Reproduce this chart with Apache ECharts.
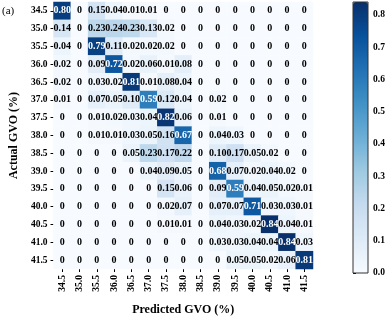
<!DOCTYPE html>
<html>
<head>
<meta charset="utf-8">
<script src="https://cdn.jsdelivr.net/npm/echarts@6/dist/echarts.min.js"></script>
<style>html,body{margin:0;padding:0;background:#fff;}#c{width:388px;height:321px;}</style>
</head>
<body>
<div id="c"></div>
<script>
var categories = ['34.5','35.0','35.5','36.0','36.5','37.0','37.5','38.0','38.5','39.0','39.5','40.0','40.5','41.0','41.5'];
var row_34_5 = [0.80,0,0.15,0.04,0.01,0.01,0,0,0,0,0,0,0,0,0];
var row_35_0 = [0.14,0,0.23,0.24,0.23,0.13,0.02,0,0,0,0,0,0,0,0];
var row_35_5 = [0.04,0,0.79,0.11,0.02,0.02,0.02,0,0,0,0,0,0,0,0];
var row_36_0 = [0.02,0,0.09,0.72,0.02,0.06,0.01,0.08,0,0,0,0,0,0,0];
var row_36_5 = [0.02,0,0.03,0.02,0.81,0.01,0.08,0.04,0,0,0,0,0,0,0];
var row_37_0 = [0.01,0,0.07,0.05,0.10,0.59,0.12,0.04,0,0.02,0,0,0,0,0];
var row_37_5 = [0,0,0.01,0.02,0.03,0.04,0.82,0.06,0,0.01,0,0,0,0,0];
var row_38_0 = [0,0,0.01,0.01,0.03,0.05,0.16,0.67,0,0.04,0.03,0,0,0,0];
var row_38_5 = [0,0,0,0,0.05,0.23,0.17,0.22,0,0.10,0.17,0.05,0.02,0,0];
var row_39_0 = [0,0,0,0,0,0.04,0.09,0.05,0,0.68,0.07,0.02,0.04,0.02,0];
var row_39_5 = [0,0,0,0,0,0,0.15,0.06,0,0.09,0.59,0.04,0.05,0.02,0.01];
var row_40_0 = [0,0,0,0,0,0,0.02,0.07,0,0.07,0.07,0.71,0.03,0.03,0.01];
var row_40_5 = [0,0,0,0,0,0,0.01,0.01,0,0.04,0.03,0.02,0.84,0.04,0.01];
var row_41_0 = [0,0,0,0,0,0,0,0,0,0.03,0.03,0.04,0.04,0.84,0.03];
var row_41_5 = [0,0,0,0,0,0,0,0,0,0,0.05,0.05,0.02,0.06,0.81];
var colorbarTicks = [0,0.1,0.2,0.3,0.4,0.5,0.6,0.7,0.8];

var rows = [row_34_5,row_35_0,row_35_5,row_36_0,row_36_5,row_37_0,row_37_5,row_38_0,row_38_5,row_39_0,row_39_5,row_40_0,row_40_5,row_41_0,row_41_5];
var data = [];
rows.forEach(function(r, yi){ r.forEach(function(v, xi){
  data.push({value: [xi, yi, v], label: {color: v >= 0.5 ? '#fff' : '#000'}});
}); });

var FONT = '"Liberation Serif","Times New Roman",serif';
var chart = echarts.init(document.getElementById('c'), null, {renderer:'canvas'});
chart.setOption({
  animation: false,
  backgroundColor: '#fff',
  grid: [
    {left: 47, right: 75, top: 2, bottom: 50},
    {left: 353, top: 2, width: 15, height: 271, show: true, borderColor: '#333', borderWidth: 1, backgroundColor: 'transparent', z: 10}
  ],
  xAxis: [
    {type: 'category', data: categories, gridIndex: 0,
     name: 'Predicted GVO (%)', nameLocation: 'middle', nameGap: 35,
     nameTextStyle: {fontFamily: FONT, fontWeight: 'bold', fontSize: 12, color: '#000'},
     axisLine: {show: false}, splitLine: {show: false},
     axisTick: {show: true, length: 3, alignWithLabel: true, lineStyle: {color: '#000'}},
     axisLabel: {rotate: 90, interval: 0, margin: 6, fontFamily: FONT, fontWeight: 'bold', fontSize: 9.5, color: '#000'}},
    {type: 'value', gridIndex: 1, show: false}
  ],
  yAxis: [
    {type: 'category', data: categories, gridIndex: 0, inverse: true,
     name: 'Actual GVO (%)', nameLocation: 'middle', nameGap: 28, nameRotate: 90,
     nameTextStyle: {fontFamily: FONT, fontWeight: 'bold', fontSize: 12, color: '#000'},
     axisLine: {show: false}, splitLine: {show: false},
     axisTick: {show: true, length: 3, alignWithLabel: true, lineStyle: {color: '#000'}},
     axisLabel: {interval: 0, margin: 6, fontFamily: FONT, fontWeight: 'bold', fontSize: 9.5, color: '#000'}},
    {type: 'value', gridIndex: 1, position: 'right', min: 0, max: 0.84,
     axisLine: {show: false}, splitLine: {show: false},
     axisTick: {show: true, length: 3, customValues: colorbarTicks, lineStyle: {color: '#000'}},
     axisLabel: {customValues: colorbarTicks, margin: 5, fontFamily: FONT, fontWeight: 'bold', fontSize: 9.5, color: '#000',
       formatter: function(v){ return v.toFixed(1); }}}
  ],
  visualMap: {
    type: 'continuous', min: 0, max: 0.84, calculable: false, show: true,
    seriesIndex: 0, orient: 'vertical', left: 353, top: 2, itemWidth: 15, itemHeight: 271,
    padding: 0, text: null, showLabel: false,
    inRange: {color: ['#f7fbff','#deebf7','#c6dbef','#9ecae1','#6baed6','#4292c6','#2171b5','#08519c','#08306b']}
  },
  graphic: [
    {type: 'text', left: 2, top: 6, style: {text: '(a)', fontFamily: FONT, fontSize: 11, fill: '#000'}}
  ],
  series: [{
    type: 'heatmap', xAxisIndex: 0, yAxisIndex: 0, data: data,
    itemStyle: {borderWidth: 0},
    label: {show: true, fontFamily: FONT, fontWeight: 'bold', fontSize: 10,
      formatter: function(p){ var v = p.value[2]; return v === 0 ? '0' : v.toFixed(2); }}
  }]
});
</script>
</body>
</html>
